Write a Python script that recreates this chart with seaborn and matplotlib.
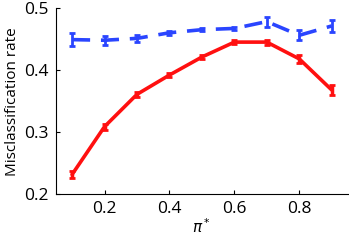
import seaborn as sns
import matplotlib.pyplot as plt
import pandas as pd

pi_star = [0.1, 0.2, 0.3, 0.4, 0.5, 0.6, 0.7, 0.8, 0.9]
blue_rate = [0.449, 0.448, 0.451, 0.460, 0.465, 0.467, 0.478, 0.456, 0.471]
blue_err = [0.010, 0.007, 0.006, 0.003, 0.002, 0.003, 0.008, 0.008, 0.010]
red_rate = [0.232, 0.309, 0.361, 0.392, 0.421, 0.445, 0.445, 0.418, 0.368]
red_err = [0.005, 0.005, 0.004, 0.003, 0.003, 0.003, 0.004, 0.006, 0.008]

df = pd.DataFrame({"pi": pi_star, "blue": blue_rate, "red": red_rate})

sns.set_style("ticks", {"axes.edgecolor": "black", "text.color": "black",
                        "xtick.color": "black", "ytick.color": "black",
                        "axes.labelcolor": "black"})
plt.rcParams['font.family'] = ['Open Sans', 'DejaVu Sans']

fig, ax = plt.subplots(figsize=(3.49, 2.4), dpi=100)

sns.lineplot(x="pi", y="blue", data=df, color="#2a45ff", lw=2.6, ax=ax)
ax.lines[-1].set_dashes([5, 3])
ax.errorbar(pi_star, blue_rate, yerr=blue_err, fmt="none", ecolor="#2a45ff",
            elinewidth=2, capsize=2.5, capthick=2)

sns.lineplot(x="pi", y="red", data=df, color="#ff1010", lw=2.6, ax=ax)
ax.errorbar(pi_star, red_rate, yerr=red_err, fmt="none", ecolor="#ff1010",
            elinewidth=2.5, capsize=2.5, capthick=2)

ax.set_xlim(0.05, 0.95)
ax.set_ylim(0.2, 0.5)
ax.set_xticks([0.2, 0.4, 0.6, 0.8])
ax.set_xticklabels(["0.2", "0.4", "0.6", "0.8"])
ax.set_yticks([0.2, 0.3, 0.4, 0.5])
ax.set_yticklabels(["0.2", "0.3", "0.4", "0.5"])
ax.tick_params(labelsize=12.5, direction="in", length=3, width=0.8, pad=5)
ax.set_xlabel(r"$\pi^*$", fontsize=11, labelpad=1)
ax.set_ylabel("Misclassification rate", fontsize=11, labelpad=3)
sns.despine(ax=ax)
for s in ["left", "bottom"]:
    ax.spines[s].set_linewidth(0.8)

fig.subplots_adjust(left=0.16, right=0.997, top=0.967, bottom=0.19)
fig.savefig("out.png")
